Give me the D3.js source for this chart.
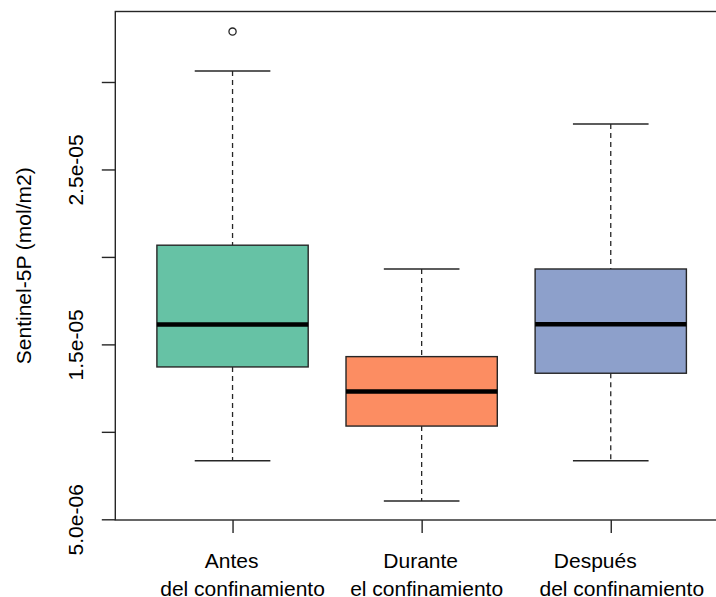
<!DOCTYPE html>
<html>
<head>
<meta charset="utf-8">
<script src="https://cdn.jsdelivr.net/npm/d3@7"></script>
<style>
  body { margin: 0; background: #fff; }
  svg { display: block; font-family: "Liberation Sans", Arial, sans-serif; }
  .axis text { font-size: 21px; fill: #000; }
</style>
</head>
<body>
<div id="canvas"></div>
<script>
  const w = 716;
  const h = 597;

  // data (values in mol/m2)
  const groups = ["Antes", "Durante", "Después"];
  const groupSubs = ["del confinamiento", "el confinamiento", "del confinamiento"];
  const lowerWhisker = [8.35e-6, 6.05e-6, 8.35e-6];
  const q1 = [13.71e-6, 10.33e-6, 13.35e-6];
  const medians = [16.13e-6, 12.30e-6, 16.15e-6];
  const q3 = [20.67e-6, 14.30e-6, 19.31e-6];
  const upperWhisker = [30.63e-6, 19.31e-6, 27.60e-6];
  const outliers = [[32.88e-6], [], []];
  const colors = ["#66c2a5", "#fc8d62", "#8da0cb"];

  const yTicks = [5e-6, 1e-5, 1.5e-5, 2e-5, 2.5e-5, 3e-5];
  const yTickLabels = ["5.0e-06", "", "1.5e-05", "", "2.5e-05", ""];

  const plot = { left: 115.3, right: 728, top: 11.5, bottom: 520 };
  // the labels in the original carry padding spaces, so lines are not centred on the tick
  const lineShift = [[-1, 10], [-1, 5], [-15.5, 11]];

  const data = groups.map((g, i) => ({
    pos: i + 1,
    name: g,
    sub: groupSubs[i],
    lo: lowerWhisker[i],
    q1: q1[i],
    med: medians[i],
    q3: q3[i],
    hi: upperWhisker[i],
    out: outliers[i],
    color: colors[i],
    shift: lineShift[i]
  }));

  const svg = d3.select("#canvas")
                .append("svg")
                .attr("width", w)
                .attr("height", h);

  const x = d3.scaleLinear()
              .domain([0.38, 3.62])
              .range([plot.left, plot.right]);

  const y = d3.scaleLinear()
              .domain([4.96e-6, 34.03e-6])
              .range([plot.bottom, plot.top]);

  const boxW = (x(1.4) - x(1)) * 2;   // 0.8 of a slot
  const capW = boxW / 2;

  const line = "#262626";

  //whiskers (dashed)
  const box = svg.append("g").selectAll(".box")
                 .data(data)
                 .enter()
                 .append("g")
                 .classed("box", true);

  box.append("line")
     .attr("x1", d => x(d.pos)).attr("x2", d => x(d.pos))
     .attr("y1", d => y(d.hi)).attr("y2", d => y(d.q3))
     .style("stroke", line).style("stroke-width", 1.3)
     .style("stroke-dasharray", "5,4");

  box.append("line")
     .attr("x1", d => x(d.pos)).attr("x2", d => x(d.pos))
     .attr("y1", d => y(d.q1)).attr("y2", d => y(d.lo))
     .style("stroke", line).style("stroke-width", 1.3)
     .style("stroke-dasharray", "5,4");

  //staples
  box.append("line")
     .attr("x1", d => x(d.pos) - capW / 2).attr("x2", d => x(d.pos) + capW / 2)
     .attr("y1", d => y(d.hi)).attr("y2", d => y(d.hi))
     .style("stroke", line).style("stroke-width", 1.4);

  box.append("line")
     .attr("x1", d => x(d.pos) - capW / 2).attr("x2", d => x(d.pos) + capW / 2)
     .attr("y1", d => y(d.lo)).attr("y2", d => y(d.lo))
     .style("stroke", line).style("stroke-width", 1.4);

  //box
  box.append("rect")
     .attr("x", d => x(d.pos) - boxW / 2)
     .attr("width", boxW)
     .attr("y", d => y(d.q3))
     .attr("height", d => y(d.q1) - y(d.q3))
     .style("fill", d => d.color)
     .style("stroke", line)
     .style("stroke-width", 1.4);

  //median
  box.append("line")
     .attr("x1", d => x(d.pos) - boxW / 2).attr("x2", d => x(d.pos) + boxW / 2)
     .attr("y1", d => y(d.med)).attr("y2", d => y(d.med))
     .style("stroke", "#000").style("stroke-width", 4.5);

  //outliers
  box.selectAll(".out")
     .data(d => d.out.map(v => ({ pos: d.pos, v: v })))
     .enter()
     .append("circle")
     .classed("out", true)
     .attr("cx", d => x(d.pos))
     .attr("cy", d => y(d.v))
     .attr("r", 3.6)
     .style("fill", "none")
     .style("stroke", line)
     .style("stroke-width", 1.3);

  //frame
  svg.append("rect")
     .attr("x", plot.left).attr("y", plot.top)
     .attr("width", plot.right - plot.left)
     .attr("height", plot.bottom - plot.top)
     .style("fill", "none")
     .style("stroke", line)
     .style("stroke-width", 1.4);

  //y axis
  const yAxis = d3.axisLeft(y)
                  .tickValues(yTicks)
                  .tickFormat((d, i) => yTickLabels[i])
                  .tickSize(13.5)
                  .tickSizeOuter(0);

  const gy = svg.append("g")
                .classed("y axis", true)
                .attr("transform", "translate(" + plot.left + ",0)")
                .call(yAxis);
  gy.select(".domain").remove();
  gy.selectAll(".tick line").style("stroke", line).style("stroke-width", 1.4);
  gy.selectAll(".tick text")
    .attr("x", null)
    .attr("dy", null)
    .attr("text-anchor", "middle")
    .attr("transform", "translate(" + (83.3 - plot.left) + ",0) rotate(-90)");

  //x axis
  const xAxis = d3.axisBottom(x)
                  .tickValues(data.map(d => d.pos))
                  .tickFormat("")
                  .tickSize(13)
                  .tickSizeOuter(0);

  const gx = svg.append("g")
                .classed("x axis", true)
                .attr("transform", "translate(0," + plot.bottom + ")")
                .call(xAxis);
  gx.select(".domain").remove();
  gx.selectAll(".tick line").style("stroke", line).style("stroke-width", 1.4);
  gx.selectAll(".tick text").remove();

  const xl = gx.selectAll(".xlab")
               .data(data)
               .enter()
               .append("text")
               .classed("xlab", true)
               .attr("text-anchor", "middle")
               .attr("transform", d => "translate(" + x(d.pos) + ",0)");
  xl.append("tspan").attr("x", d => d.shift[0]).attr("y", 48.3).text(d => d.name);
  xl.append("tspan").attr("x", d => d.shift[1]).attr("y", 75.5).text(d => d.sub);

  //axis label
  svg.append("text")
     .attr("transform", "translate(30.5," + ((plot.top + plot.bottom) / 2) + ") rotate(-90)")
     .attr("text-anchor", "middle")
     .style("font-size", "21px")
     .style("fill", "#000")
     .text("Sentinel-5P (mol/m2)");
</script>
</body>
</html>
